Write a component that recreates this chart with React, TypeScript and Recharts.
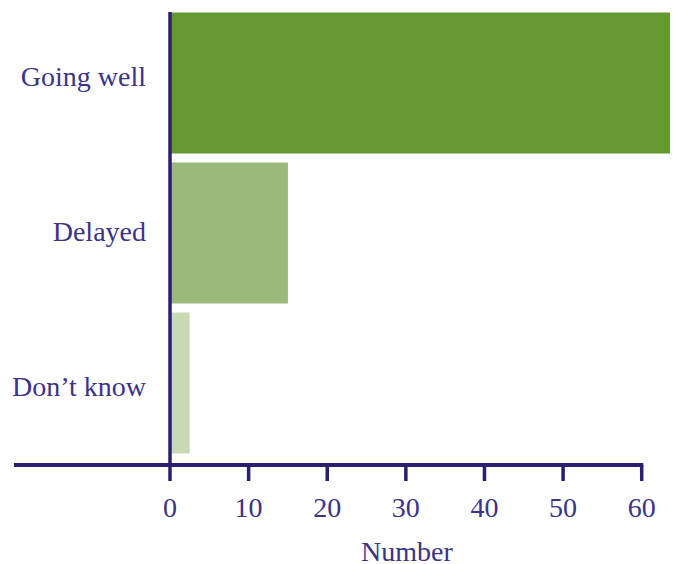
import { BarChart, Bar, Cell, XAxis, YAxis, ReferenceLine, Label } from 'recharts'

const categories = ['Going well', 'Delayed', 'Don\u2019t know']
const counts = [63.6, 15, 2.5]
const barColors = ['#639832', '#9bb97a', '#c8dab5']
const xTicks = [0, 10, 20, 30, 40, 50, 60]

const data = categories.map((name, i) => ({ name, value: counts[i], color: barColors[i] }))

const ink = '#2b1e6e'
const textColor = '#3b3387'
const font = '"Liberation Serif", "Times New Roman", serif'

export default function App() {
  return (
    <div style={{ position: 'absolute', left: 0, top: -2, fontFamily: font }}>
      <BarChart
        width={678}
        height={566}
        data={data}
        layout="vertical"
        margin={{ top: 0, right: 8, bottom: 0, left: 0 }}
      >
        <XAxis
          type="number"
          domain={[0, 'dataMax']}
          ticks={xTicks}
          interval={0}
          axisLine={false}
          tickLine={{ stroke: ink, strokeWidth: 3.5 }}
          tickSize={16}
          tickMargin={16}
          height={99}
          tick={{ fill: textColor, fontSize: 28, fontFamily: font }}
        >
          <Label
            value="Number"
            position="insideBottom"
            offset={3}
            dx={-13}
            fill={textColor}
            fontSize={28}
            fontFamily={font}
          />
        </XAxis>
        {/* labels sit on a slightly taller band than the bars */}
        <YAxis
          yAxisId="labels"
          type="category"
          dataKey="name"
          width={170}
          axisLine={false}
          tickLine={false}
          tickSize={0}
          tickMargin={24}
          padding={{ top: 0, bottom: 1 }}
          tick={{ fill: textColor, fontSize: 28, fontFamily: font }}
        />
        <YAxis yAxisId="bars" type="category" dataKey="name" hide width={0} padding={{ top: 9.5, bottom: 7.5 }} />
        {/* 0 = top of plot, 1 = bottom, only used to place the axis lines */}
        <YAxis
          yAxisId="frame"
          type="number"
          dataKey="value"
          domain={[0, 1]}
          allowDataOverflow
          hide
          width={0}
        />
        <Bar yAxisId="bars" dataKey="value" barSize={141} isAnimationActive={false}>
          {data.map((d) => (
            <Cell key={d.name} fill={d.color} />
          ))}
        </Bar>
        <ReferenceLine
          yAxisId="frame"
          segment={[{ x: 0, y: 1 }, { x: 0, y: 0.03 }]}
          ifOverflow="visible"
          stroke={ink}
          strokeWidth={3.5}
        />
        <ReferenceLine
          yAxisId="frame"
          segment={[{ x: -19.85, y: 1 }, { x: 60.2, y: 1 }]}
          ifOverflow="visible"
          stroke={ink}
          strokeWidth={4}
        />
      </BarChart>
    </div>
  )
}
